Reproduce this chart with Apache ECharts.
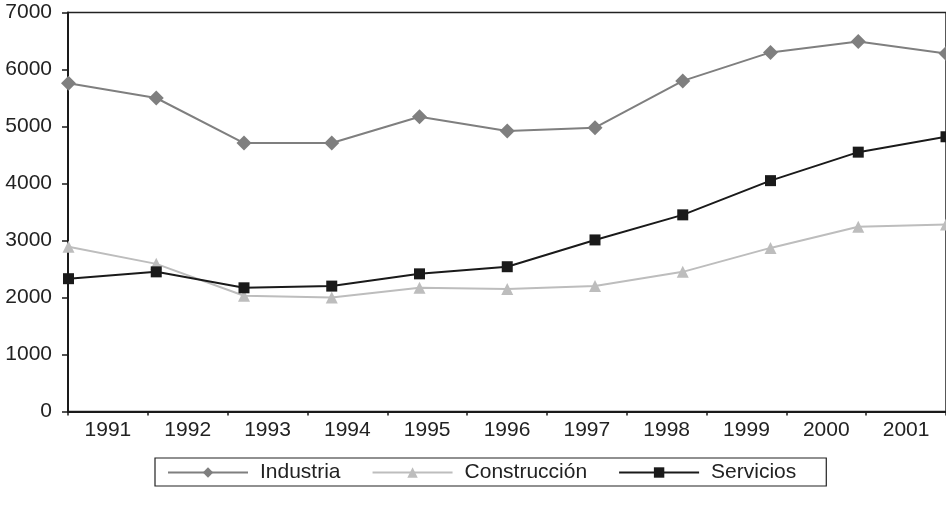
<!DOCTYPE html>
<html>
<head>
<meta charset="utf-8">
<script src="https://cdn.jsdelivr.net/npm/echarts@6/dist/echarts.min.js"></script>
<style>
html,body{margin:0;padding:0;background:#fff;}
#chart{width:946px;height:510px;}
</style>
</head>
<body>
<div id="chart"></div>
<script>
var years = ['1991','1992','1993','1994','1995','1996','1997','1998','1999','2000','2001'];
var yTicks = [0,1000,2000,3000,4000,5000,6000,7000];
var industria    = [5760,5500,4710,4710,5170,4920,4980,5800,6300,6490,6280];
var construccion = [2890,2590,2030,2000,2170,2150,2200,2450,2870,3240,3280];
var servicios    = [2330,2450,2170,2200,2415,2540,3010,3450,4050,4550,4820];

var font = 'Liberation Sans, Arial, Helvetica, sans-serif';
var chart = echarts.init(document.getElementById('chart'));
chart.setOption({
  animation: false,
  backgroundColor: '#fff',
  grid: [
    {left: 68, width: 891, top: 12.5, height: 399, show: true, borderColor: '#222', borderWidth: 1.5, backgroundColor: 'transparent'},
    {left: 68.5, width: 885.5, top: 12.5, height: 399, show: false}
  ],
  xAxis: [
    {type: 'category', gridIndex: 0, data: years, boundaryGap: true,
     axisLine: {lineStyle: {color: '#1a1a1a', width: 2}},
     axisTick: {show: true, length: 4, lineStyle: {color: '#1a1a1a', width: 1.5}},
     axisLabel: {color: '#222', fontSize: 21, fontFamily: font, margin: 8},
     splitLine: {show: false}},
    {type: 'category', gridIndex: 1, data: years, boundaryGap: false, show: false}
  ],
  yAxis: [
    {type: 'value', gridIndex: 0, min: yTicks[0], max: yTicks[yTicks.length-1], interval: 1000,
     axisLine: {show: true, lineStyle: {color: '#1a1a1a', width: 2}},
     axisTick: {show: true, length: 6, lineStyle: {color: '#1a1a1a', width: 1.5}},
     axisLabel: {color: '#222', fontSize: 21, fontFamily: font, margin: 16,
                 formatter: function (v) { return String(v); }},
     splitLine: {show: false}},
    {type: 'value', gridIndex: 1, min: yTicks[0], max: yTicks[yTicks.length-1], show: false}
  ],
  legend: {
    left: 155, top: 458,
    orient: 'horizontal',
    itemWidth: 80, itemHeight: 13, itemGap: 31,
    padding: [4, 30, 3, 12],
    borderColor: '#222', borderWidth: 1.2,
    textStyle: {color: '#222', fontSize: 21, fontFamily: font, padding: [0,0,0,7]},
    data: ['Industria','Construcción','Servicios']
  },
  series: [
    {name: 'Industria', type: 'line', xAxisIndex: 1, yAxisIndex: 1, data: industria,
     symbol: 'diamond', symbolSize: 15, itemStyle: {color: '#7f7f7f'},
     lineStyle: {color: '#7f7f7f', width: 2}},
    {name: 'Construcción', type: 'line', xAxisIndex: 1, yAxisIndex: 1, data: construccion,
     symbol: 'triangle', symbolSize: 12, itemStyle: {color: '#bdbdbd'},
     lineStyle: {color: '#bdbdbd', width: 2}},
    {name: 'Servicios', type: 'line', xAxisIndex: 1, yAxisIndex: 1, data: servicios,
     symbol: 'rect', symbolSize: 11, itemStyle: {color: '#1a1a1a'},
     lineStyle: {color: '#1a1a1a', width: 2}}
  ]
});
</script>
</body>
</html>
